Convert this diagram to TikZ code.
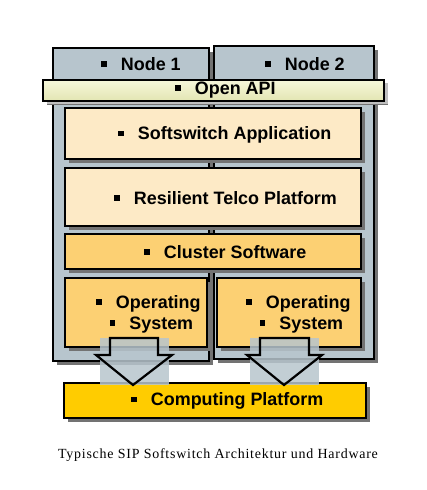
\documentclass[tikz,border=0pt]{standalone}
\usepackage{fontspec}
\setmainfont{Liberation Serif}
\setsansfont{Liberation Sans}
\usetikzlibrary{shadows}

\definecolor{nodegrey}{RGB}{183,197,205}
\definecolor{apitop}{RGB}{246,247,218}
\definecolor{apibot}{RGB}{226,229,178}
\definecolor{peach}{RGB}{253,234,198}
\definecolor{orangeish}{RGB}{252,208,115}
\definecolor{gold}{RGB}{255,204,0}

\newcommand{\sq}{\rule[0.2em]{0.3em}{0.3em}\hspace{0.8em}}

\tikzset{
  layer/.style={draw=black, line width=2.4bp, anchor=north west, inner sep=0pt,
    drop shadow={shadow xshift=4bp, shadow yshift=-4bp, fill=black!55, opacity=1}},
  lightlayer/.style={layer, drop shadow={shadow xshift=4bp, shadow yshift=-3bp, fill=black!25, opacity=1}},
  txt/.style={anchor=west, inner sep=0pt, font=\sffamily\bfseries\fontsize{18}{21}\selectfont},
  caption/.style={inner sep=0pt, font=\addfontfeatures{LetterSpace=5.5}\fontsize{14}{16}\selectfont},
}

\begin{document}
\begin{tikzpicture}[x=1bp,y=-1bp]
  \useasboundingbox (0,0) rectangle (426,490);

  % the two cluster nodes
  \node[layer, fill=nodegrey, minimum width=156bp, minimum height=313bp] (node1) at (52,47) {};
  \node[layer, fill=nodegrey, minimum width=160bp, minimum height=313bp] (node2) at (213,45) {};
    \node[txt] (node1txt) at (101,64) {\sq Node 1};
    \node[txt] (node2txt) at (265,64) {\sq Node 2};

  % api bar across both nodes
  \node[lightlayer, top color=apitop, bottom color=apibot, minimum width=341bp, minimum height=21bp] (api) at (42,79) {};
    \node[txt] (apitxt) at (175,90) {\sq Open API};

  % software stack
  \node[layer, fill=peach, minimum width=296bp, minimum height=51bp] (appl) at (64,107) {};
    \node[txt] (appltxt) at (118,135) {\sq Softswitch Application};
  \node[layer, fill=peach, minimum width=296bp, minimum height=58bp] (rtp) at (64,167) {};
    \node[txt] (rtptxt) at (114,198) {\sq Resilient Telco Platform};
  \node[layer, fill=orangeish, minimum width=296bp, minimum height=35bp] (cluster) at (64,233) {};
    \node[txt] (clustertxt) at (144,252) {\sq Cluster Software};
  \node[layer, fill=orangeish, minimum width=142bp, minimum height=69bp] (osl) at (64,277) {};
  \node[layer, fill=orangeish, minimum width=144bp, minimum height=69bp] (osr) at (216,277) {};
    \node[txt, align=left] (osltxt) at (96,314) {\sq Operating\\\hspace{0.75em}\sq System};
    \node[txt, align=left] (osrtxt) at (246,314) {\sq Operating\\\hspace{0.75em}\sq System};

  % hardware
  \node[layer, fill=gold, minimum width=302bp, minimum height=35bp] (hw) at (63,382) {};
    \node[txt] (hwtxt) at (131,401) {\sq Computing Platform};

  % block arrows down to the hardware
  \fill [nodegrey, fill opacity=0.85] (100,338) rectangle (169,385);
  \draw [line width=2.2bp] (110,338) -- (158,338) -- (158,355) -- (172,355) -- (133,385) -- (96,355) -- (110,355) -- cycle;
  \fill [nodegrey, fill opacity=0.85] (250,338) rectangle (319,385);
  \draw [line width=2.2bp] (260,338) -- (309,338) -- (309,355) -- (322,355) -- (284,385) -- (247,355) -- (260,355) -- cycle;

  \node[caption] (cap) at (218,455) {Typische SIP Softswitch Architektur und Hardware};
\end{tikzpicture}
\end{document}
